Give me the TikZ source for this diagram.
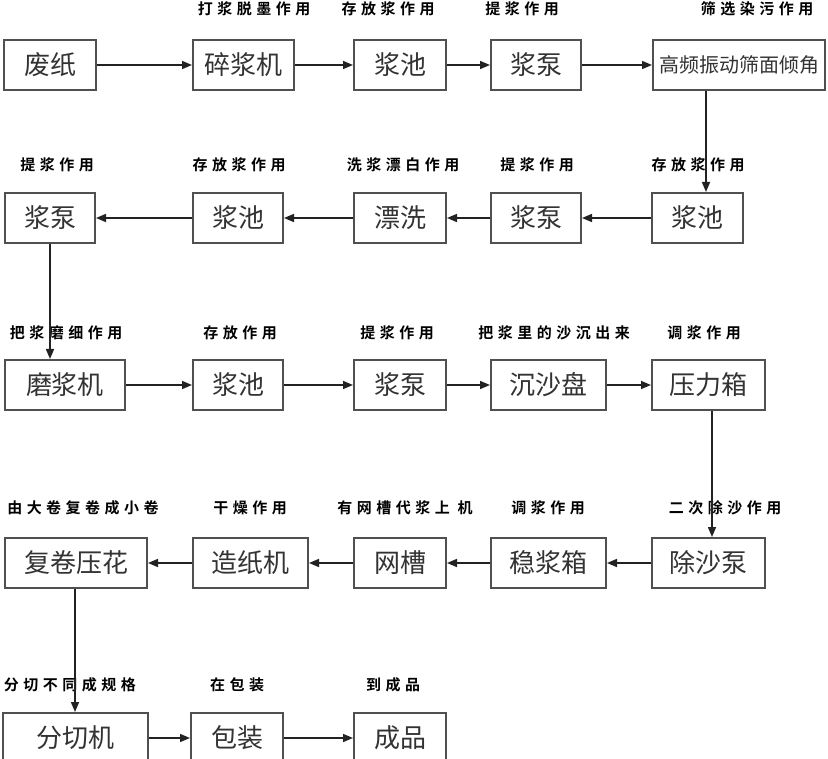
\documentclass[tikz,border=0pt]{standalone}
\usepackage{fontspec}
\newfontfamily\cjk{Noto Sans CJK SC}
\newfontfamily\cjkb[LetterSpace=30]{Noto Sans CJK SC Bold}
\usetikzlibrary{arrows.meta}
\definecolor{boxline}{HTML}{505050}
\definecolor{boxtext}{HTML}{333333}
\definecolor{arrline}{HTML}{222222}
\tikzset{
  box/.style={draw=boxline, line width=2pt, rectangle, inner sep=0pt,
    minimum height=50pt, text=boxtext, font=\cjk\fontsize{26}{26}\selectfont},
  lbl/.style={inner sep=0pt, text=black, font=\cjkb\fontsize{15}{15}\selectfont},
  arr/.style={draw=arrline, line width=1.5pt, -{Triangle[length=10pt,width=8pt]}}
}
\begin{document}
\begin{tikzpicture}[x=1pt,y=-1pt]
\useasboundingbox[fill=white] (0,0) rectangle (828,759);
% row 1
\node[box, minimum width=92pt] (a1) at (50,65) {废纸};
\node[box, minimum width=101pt] (a2) at (243.5,65) {碎浆机};
\node[box, minimum width=92pt] (a3) at (400,65) {浆池};
\node[box, minimum width=90pt] (a4) at (536,65) {浆泵};
\node[box, minimum width=172pt, font=\cjk\fontsize{20}{20}\selectfont] (a5) at (739,65) {高频振动筛面倾角};
\node[lbl] (la2) at (254,9) {打浆脱墨作用};
\node[lbl] (la3) at (388,9) {存放浆作用};
\node[lbl] (la4) at (522,9) {提浆作用};
\node[lbl] (la5) at (757,9) {筛选染污作用};
% row 2
\node[box, minimum width=90pt] (b1) at (50,218) {浆泵};
\node[box, minimum width=90pt] (b2) at (238,218) {浆池};
\node[box, minimum width=92pt] (b3) at (400,218) {漂洗};
\node[box, minimum width=90pt] (b4) at (536,218) {浆泵};
\node[box, minimum width=91pt] (b5) at (697.5,218) {浆池};
\node[lbl] (lb1) at (57,165) {提浆作用};
\node[lbl] (lb2) at (239,165) {存放浆作用};
\node[lbl] (lb3) at (403,165) {洗浆漂白作用};
\node[lbl] (lb4) at (537,165) {提浆作用};
\node[lbl] (lb5) at (698,165) {存放浆作用};
% row 3
\node[box, minimum width=120pt] (c1) at (65,385) {磨浆机};
\node[box, minimum width=90pt] (c2) at (238,385) {浆池};
\node[box, minimum width=92pt] (c3) at (400,385) {浆泵};
\node[box, minimum width=115pt] (c4) at (548.5,385) {沉沙盘};
\node[box, minimum width=113pt] (c5) at (708.5,385) {压力箱};
\node[lbl] (lc1) at (66,333) {把浆磨细作用};
\node[lbl] (lc2) at (240,333) {存放作用};
\node[lbl] (lc3) at (397,333) {提浆作用};
\node[lbl] (lc4) at (554,333) {把浆里的沙沉出来};
\node[lbl] (lc5) at (704,333) {调浆作用};
% row 4
\node[box, minimum width=142pt] (d1) at (76,563) {复卷压花};
\node[box, minimum width=115pt] (d2) at (250.5,563) {造纸机};
\node[box, minimum width=92pt] (d3) at (400,563) {网槽};
\node[box, minimum width=115pt] (d4) at (548.5,563) {稳浆箱};
\node[box, minimum width=113pt] (d5) at (708.5,563) {除沙泵};
\node[lbl] (ld1) at (83,508) {由大卷复卷成小卷};
\node[lbl] (ld2) at (250,508) {干燥作用};
\node[lbl] (ld3) at (405,508) {有网槽代浆上 机};
\node[lbl] (ld4) at (548,508) {调浆作用};
\node[lbl] (ld5) at (725,508) {二次除沙作用};
% row 5
\node[box, minimum width=145pt] (e1) at (75.5,738) {分切机};
\node[box, minimum width=92pt] (e2) at (237,738) {包装};
\node[box, minimum width=92pt] (e3) at (400,738) {成品};
\node[lbl] (le1) at (70,685) {分切不同成规格};
\node[lbl] (le2) at (237,685) {在包装};
\node[lbl] (le3) at (393,685) {到成品};
% horizontal connectors
\draw[arr] (a1) -- (a2);
\draw[arr] (a2) -- (a3);
\draw[arr] (a3) -- (a4);
\draw[arr] (a4) -- (a5);
\draw[arr] (b5) -- (b4);
\draw[arr] (b4) -- (b3);
\draw[arr] (b3) -- (b2);
\draw[arr] (b2) -- (b1);
\draw[arr] (c1) -- (c2);
\draw[arr] (c2) -- (c3);
\draw[arr] (c3) -- (c4);
\draw[arr] (c4) -- (c5);
\draw[arr] (d5) -- (d4);
\draw[arr] (d4) -- (d3);
\draw[arr] (d3) -- (d2);
\draw[arr] (d2) -- (d1);
\draw[arr] (e1) -- (e2);
\draw[arr] (e2) -- (e3);
% vertical connectors
\coordinate (v1) at (706,0);
\coordinate (v2) at (50,0);
\coordinate (v3) at (712,0);
\coordinate (v4) at (75,0);
\draw[arr] (v1 |- a5.south) -- (v1 |- b5.north);
\draw[arr] (v2 |- b1.south) -- (v2 |- c1.north);
\draw[arr] (v3 |- c5.south) -- (v3 |- d5.north);
\draw[arr] (v4 |- d1.south) -- (v4 |- e1.north);
\end{tikzpicture}
\end{document}
